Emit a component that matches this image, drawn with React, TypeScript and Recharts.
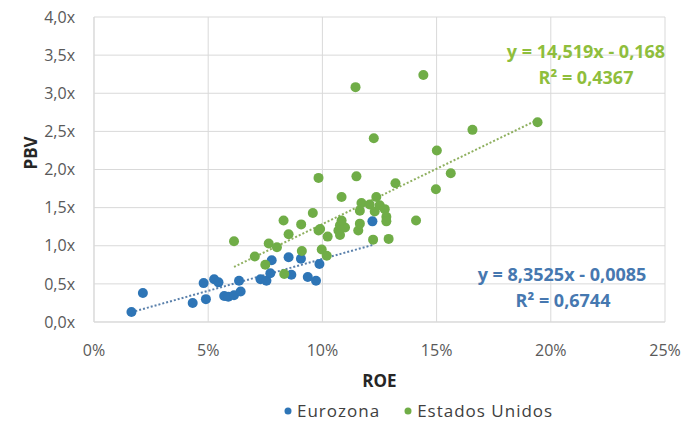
import {
  ScatterChart,
  Scatter,
  XAxis,
  YAxis,
  CartesianGrid,
  Legend,
  ReferenceLine,
} from 'recharts';

// ROE (%) and PBV (x) for each bank
const euroRoe = [1.64, 2.14, 4.32, 4.8, 4.9, 5.26, 5.45, 5.7, 5.88, 6.13, 6.42, 6.35, 7.29, 7.55, 7.72, 7.78, 8.52, 8.64, 9.06, 9.36, 9.72, 9.87, 12.19];
const euroPbv = [0.13, 0.38, 0.25, 0.51, 0.3, 0.56, 0.52, 0.34, 0.33, 0.35, 0.4, 0.54, 0.56, 0.54, 0.64, 0.81, 0.85, 0.62, 0.83, 0.59, 0.54, 0.76, 1.32];

const usRoe = [6.13, 7.04, 7.5, 7.65, 8.01, 8.3, 8.52, 8.33, 9.07, 9.1, 9.58, 9.83, 9.97, 10.19, 10.23, 9.83, 9.9, 10.7, 10.77, 10.99, 10.77, 10.84, 10.84, 11.45, 11.49, 11.57, 11.64, 11.64, 11.71, 12.07, 12.25, 12.22, 12.29, 12.36, 12.51, 12.73, 12.8, 12.8, 12.9, 13.2, 14.1, 14.42, 14.97, 15.01, 15.62, 16.57, 19.42];
const usPbv = [1.06, 0.86, 0.75, 1.03, 0.98, 1.33, 1.15, 0.63, 1.28, 0.93, 1.43, 1.2, 0.95, 0.87, 1.12, 1.89, 1.22, 1.2, 1.27, 1.24, 1.14, 1.33, 1.64, 3.08, 1.91, 1.2, 1.29, 1.46, 1.56, 1.54, 2.41, 1.08, 1.45, 1.64, 1.53, 1.48, 1.38, 1.32, 1.09, 1.82, 1.33, 3.24, 1.74, 2.25, 1.95, 2.52, 2.62];

// linear trend lines (slope / intercept on ROE as a fraction)
const euroSlope = 8.3525;
const euroIntercept = -0.0085;
const usSlope = 14.519;
const usIntercept = -0.168;

const xTicks = [0, 5, 10, 15, 20, 25];
const yTicks = [0, 0.5, 1, 1.5, 2, 2.5, 3, 3.5, 4];

const BLUE = '#2e75b6';
const GREEN = '#70ad47';

const toPoints = (xs: number[], ys: number[]) => xs.map((x, i) => ({ roe: x, pbv: ys[i] }));

const trend = (xs: number[], slope: number, intercept: number) => {
  const x0 = Math.min(...xs);
  const x1 = Math.max(...xs);
  return [
    { x: x0, y: slope * (x0 / 100) + intercept },
    { x: x1, y: slope * (x1 / 100) + intercept },
  ];
};

const dot = (color: string) => (props: any) => (
  <circle cx={props.cx} cy={props.cy} r={5} fill={color} />
);

const LegendContent = () => (
  <div style={{ display: 'flex', alignItems: 'center', fontSize: 17, letterSpacing: 1, color: '#404040' }}>
    <svg width={8} height={8} style={{ marginRight: 5 }}>
      <circle cx={4} cy={4} r={3.5} fill={BLUE} />
    </svg>
    <span style={{ marginRight: 24 }}>Eurozona</span>
    <svg width={8} height={8} style={{ marginRight: 5 }}>
      <circle cx={4} cy={4} r={3.5} fill={GREEN} />
    </svg>
    <span>Estados Unidos</span>
  </div>
);

export default function App() {
  const euro = toPoints(euroRoe, euroPbv);
  const us = toPoints(usRoe, usPbv);
  const euroLine = trend(euroRoe, euroSlope, euroIntercept);
  const usLine = trend(usRoe, usSlope, usIntercept);

  return (
    <div style={{ position: 'absolute', left: 0, top: 0, width: 689, height: 423, background: '#fff', fontFamily: '"Open Sans", sans-serif' }}>
      <ScatterChart width={689} height={423} margin={{ top: 17, right: 24, bottom: 0, left: 20 }}>
        <CartesianGrid stroke="#d9d9d9" strokeWidth={1} />
        <XAxis
          type="number"
          dataKey="roe"
          domain={[0, 25]}
          ticks={xTicks}
          tickFormatter={(v: number) => `${v}%`}
          tick={{ fill: '#595959', fontSize: 16 }}
          tickLine={false}
          axisLine={{ stroke: '#d9d9d9' }}
          tickMargin={17}
          height={77}
          label={{ value: 'ROE', position: 'insideBottom', offset: 12, fill: '#262626', fontSize: 17, fontWeight: 'bold' }}
        />
        <YAxis
          type="number"
          dataKey="pbv"
          domain={[0, 4]}
          ticks={yTicks}
          tickFormatter={(v: number) => v.toFixed(1).replace('.', ',') + 'x'}
          tick={{ fill: '#595959', fontSize: 16 }}
          tickLine={false}
          axisLine={{ stroke: '#d9d9d9' }}
          tickMargin={13}
          width={74}
          label={{ value: 'PBV', angle: -90, position: 'insideLeft', offset: 11, fill: '#262626', fontSize: 17, fontWeight: 'bold' }}
        />
        <Legend
          verticalAlign="bottom"
          content={<LegendContent />}
          wrapperStyle={{ left: 284, width: 'auto', height: 24, bottom: 0 }}
        />
        <Scatter name="Eurozona" data={euro} fill={BLUE} shape={dot(BLUE)} isAnimationActive={false} />
        <Scatter name="Estados Unidos" data={us} fill={GREEN} shape={dot(GREEN)} isAnimationActive={false} />
        <ReferenceLine
          segment={euroLine}
          stroke="#5a80ab"
          strokeWidth={2}
          strokeDasharray="2 2"
        />
        <ReferenceLine
          segment={usLine}
          stroke="#8fb060"
          strokeWidth={2}
          strokeDasharray="2 2"
        />
        <text x={586} y={58} textAnchor="middle" fill="#8fbe3c" fontSize={18} fontWeight="bold">
          y = 14,519x - 0,168
        </text>
        <text x={586} y={84} textAnchor="middle" fill="#8fbe3c" fontSize={18} fontWeight="bold">
          R² = 0,4367
        </text>
        <text x={562} y={281} textAnchor="middle" fill="#4678b0" fontSize={18} fontWeight="bold">
          y = 8,3525x - 0,0085
        </text>
        <text x={563} y={307} textAnchor="middle" fill="#4678b0" fontSize={18} fontWeight="bold">
          R² = 0,6744
        </text>
      </ScatterChart>
    </div>
  );
}
